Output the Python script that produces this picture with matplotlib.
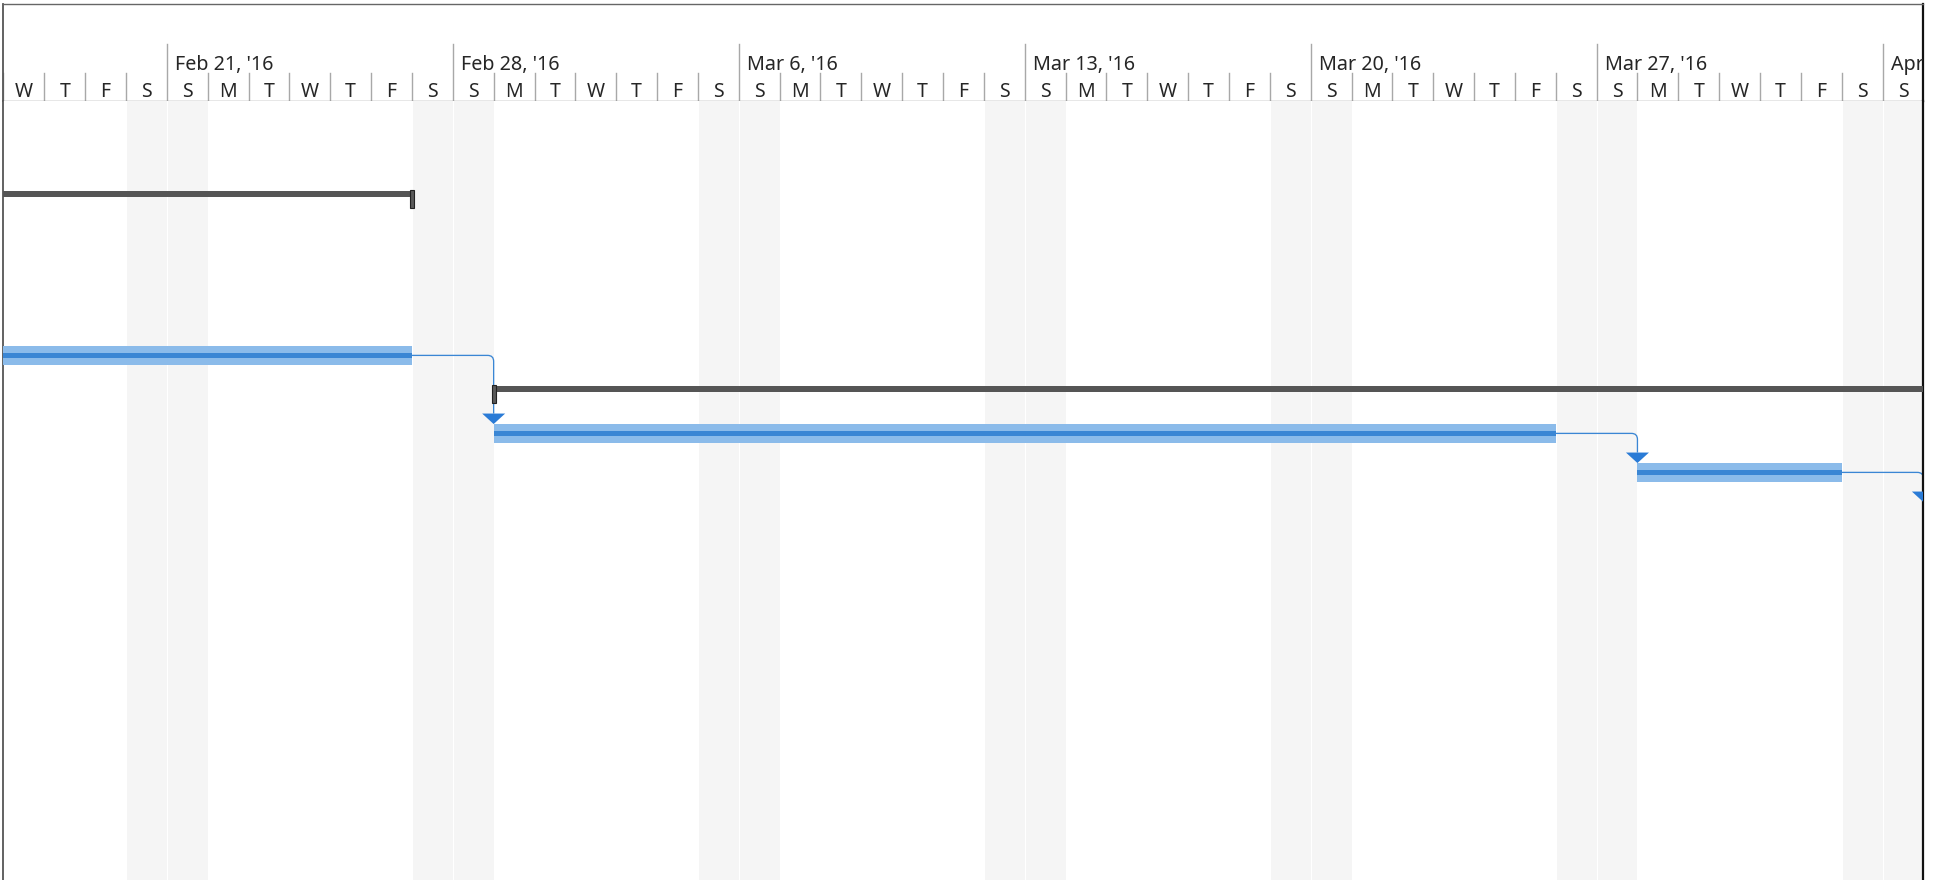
import datetime as dt
import matplotlib
matplotlib.use("Agg")
import matplotlib.pyplot as plt
import matplotlib.dates as mdates
from matplotlib.patches import Rectangle, Polygon, PathPatch
from matplotlib.path import Path

# ---------------- data ----------------
view_start = "2016-02-17"
view_end = "2016-04-04"
task_rows = [2, 6, 7, 8, 9, 10]
task_types = ["summary", "task", "summary", "task", "task", "task"]
task_starts = ["2016-02-08", "2016-02-08", "2016-02-29", "2016-02-29", "2016-03-28", "2016-04-04"]
task_ends = ["2016-02-27", "2016-02-27", "2016-04-16", "2016-03-26", "2016-04-02", "2016-04-09"]
links = [(1, 3), (3, 4), (4, 5)]
day_letters = ["M", "T", "W", "T", "F", "S", "S"]

# ---------------- style ----------------
W, H, DPI = 1936, 880, 100
plt.rcParams["font.family"] = ["Noto Sans", "DejaVu Sans"]
TXT = "#262626"
LIGHT_BLUE = "#8bbbea"
DARK_BLUE = "#3a86d4"
SUMMARY = "#555555"
WEEKEND = "#f5f5f5"

def d(s):
    return mdates.date2num(dt.datetime.strptime(s, "%Y-%m-%d"))

x0, x1 = d(view_start), d(view_end)
px_left, px_right = 3.45, 1923.4
hdr_top, hdr_bot = 4, 101
row_px = 39.0

fig = plt.figure(figsize=(W / DPI, H / DPI), dpi=DPI)
fig.patch.set_facecolor("white")

hax = fig.add_axes([px_left / W, (H - hdr_bot) / H, (px_right - px_left) / W, (hdr_bot - hdr_top) / H])
bax = fig.add_axes([px_left / W, 0, (px_right - px_left) / W, (H - hdr_bot) / H])

for ax in (hax, bax):
    ax.set_xlim(x0, x1)
    ax.set_xticks([])
    ax.set_yticks([])
    ax.spines["left"].set_color("#555555")
    ax.spines["left"].set_linewidth(1.3)
    ax.spines["right"].set_color("#111111")
    ax.spines["right"].set_linewidth(1.6)
hax.set_ylim(0, 1)
hax.spines["top"].set_color("#666666")
hax.spines["top"].set_linewidth(1.0)
hax.spines["bottom"].set_color("#858585")
hax.spines["bottom"].set_linewidth(1.0)
bax.spines["top"].set_visible(False)
bax.spines["bottom"].set_visible(False)

n_rows = (H - hdr_bot) / row_px
bax.set_ylim(n_rows, 0)

# ---------------- timescale / weekends ----------------
ndays = int(round(x1 - x0)) + 1
for i in range(ndays):
    day = x0 + i
    date = mdates.num2date(day)
    wd = date.weekday()
    if wd >= 5:
        bax.axvspan(day, day + 1, color=WEEKEND, lw=0, zorder=0)
    bax.axvline(day, color="white", lw=0.8, zorder=0.5)
    is_week = wd == 6
    hax.plot([day, day], [0, 0.588 if is_week else 0.289], color="#a8a8a8", lw=1.0,
             zorder=1, clip_on=True)
    hax.text(day + 0.5, 0.04, day_letters[wd], ha="center", va="baseline",
             fontsize=14, color=TXT, clip_on=True)
    if is_week:
        lbl = date.strftime("%b ") + str(date.day) + date.strftime(", '%y")
        hax.text(day + 0.2, 0.315, lbl, ha="left", va="baseline",
                 fontsize=14.2, color=TXT, clip_on=True)

# ---------------- bars ----------------
task_h = 18.7 / row_px
task_off = 0.9 / row_px
stripe_h = 5.4 / row_px
sum_h = 6.0 / row_px
sum_off = -4.5 / row_px
cap_w = 4.0 / 40.85
cap_top, cap_bot = -8.5 / row_px, 9.5 / row_px

for r, t, s, e in zip(task_rows, task_types, task_starts, task_ends):
    xs, xe = d(s), d(e)
    yc = r + 0.5
    if t == "task":
        bax.add_patch(Rectangle((xs, yc + task_off - task_h / 2), xe - xs, task_h,
                                facecolor=LIGHT_BLUE, edgecolor="none", zorder=3))
        bax.add_patch(Rectangle((xs, yc + task_off - stripe_h / 2), xe - xs, stripe_h,
                                facecolor=DARK_BLUE, edgecolor="none", zorder=4))
    else:
        bax.add_patch(Rectangle((xs, yc + sum_off - sum_h / 2), xe - xs, sum_h,
                                facecolor=SUMMARY, edgecolor="none", zorder=3))
        for cx in (xs, xe):
            bax.add_patch(Rectangle((cx - cap_w / 2, yc + cap_top), cap_w, cap_bot - cap_top,
                                    facecolor="#5a5a5a", edgecolor="#222222", lw=0.8, zorder=5))

# ---------------- links ----------------
rad_x = 6.0 / 40.85
rad_y = 6.0 / row_px
arr_w = 23.0 / 40.85
arr_h = 10.5 / row_px
for a, b in links:
    pa_end = d(task_ends[a])
    pb_start = d(task_starts[b])
    ya = task_rows[a] + 0.5 + task_off
    yb_top = task_rows[b] + 0.5 + task_off - task_h / 2
    verts = [(pa_end, ya), (pb_start - rad_x, ya), (pb_start, ya), (pb_start, ya + rad_y),
             (pb_start, yb_top - arr_h)]
    codes = [Path.MOVETO, Path.LINETO, Path.CURVE3, Path.CURVE3, Path.LINETO]
    bax.add_patch(PathPatch(Path(verts, codes), facecolor="none", edgecolor=DARK_BLUE,
                            lw=0.95, zorder=2))
    bax.add_patch(Polygon([(pb_start - arr_w / 2, yb_top - arr_h), (pb_start + arr_w / 2, yb_top - arr_h),
                           (pb_start, yb_top)], closed=True, facecolor="#2a7bd6",
                          edgecolor="none", zorder=6))

fig.savefig("out.png", dpi=DPI, facecolor="white")
